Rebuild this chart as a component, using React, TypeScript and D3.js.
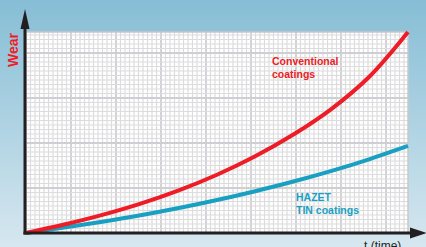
import * as d3 from 'd3';

// time (arbitrary units) and wear for each coating
const times = [0, 1, 2, 3, 4, 5, 6, 7, 8, 9, 10];
const conventionalWear = [0, 0.42, 0.9, 1.46, 2.12, 2.9, 3.82, 4.9, 6.18, 7.8, 10.0];
const hazetWear = [0, 0.27, 0.56, 0.88, 1.24, 1.64, 2.08, 2.56, 3.09, 3.68, 4.33];

const seriesLabels = ['Conventional', 'coatings'];
const hazetLabels = ['HAZET', 'TIN coatings'];

const W = 426;
const H = 247;
const plot = { left: 26, right: 408, top: 32, bottom: 233 };
const cell = 4.5;

const App = () => {
  const x = d3.scaleLinear().domain([0, 10]).range([plot.left, plot.right]);
  const y = d3.scaleLinear().domain([0, 10]).range([plot.bottom, plot.top]);

  // grid in cell units, counted from the origin
  const gx = d3.scaleLinear().domain([0, 1]).range([plot.left, plot.left + cell]);
  const gy = d3.scaleLinear().domain([0, 1]).range([plot.bottom, plot.bottom - cell]);
  const nCols = Math.floor((plot.right - plot.left) / cell);
  const nRows = Math.floor((plot.bottom - plot.top) / cell);
  const cols = d3.range(1, nCols + 1);
  const rows = d3.range(1, nRows + 1);

  const line = d3.line<number>()
    .x((_, i) => x(times[i]))
    .y(d => y(d))
    .curve(d3.curveCatmullRom.alpha(0.5));

  const red = '#ee1c26';
  const blue = '#199fc2';
  const axisColor = '#231f20';

  return (
    <svg width={W} height={H} style={{ position: 'absolute', left: 0, top: 0 }}
      fontFamily="'Liberation Sans', Arial, sans-serif">
      <defs>
        <linearGradient id="bg" x1="0" y1="0" x2="0" y2="1">
          <stop offset="0%" stopColor="#86bed5" />
          <stop offset="100%" stopColor="#d6e7f0" />
        </linearGradient>
      </defs>
      <rect x={0} y={0} width={W} height={H} fill="url(#bg)" />

      {/* grid paper */}
      <rect x={plot.left} y={plot.top} width={plot.right - plot.left} height={plot.bottom - plot.top} fill="#ffffff" />
      <g>
        {cols.map(c => (
          <line key={'c' + c} x1={gx(c)} x2={gx(c)} y1={plot.top} y2={plot.bottom}
            stroke={c % 10 === 0 ? '#cfcfd1' : '#dcdcde'} strokeWidth={c % 10 === 0 ? 1.8 : 1.2} />
        ))}
        {rows.map(r => (
          <line key={'r' + r} y1={gy(r)} y2={gy(r)} x1={plot.left} x2={plot.right}
            stroke={r % 10 === 0 ? '#cfcfd1' : '#dcdcde'} strokeWidth={r % 10 === 0 ? 1.8 : 1.2} />
        ))}
      </g>
      <rect x={plot.left} y={plot.top} width={plot.right - plot.left} height={plot.bottom - plot.top}
        fill="none" stroke="#c8c8ca" strokeWidth={1.5} />

      {/* curves */}
      <path d={line(hazetWear) ?? ''} fill="none" stroke={blue} strokeWidth={4} />
      <path d={line(conventionalWear) ?? ''} fill="none" stroke={red} strokeWidth={4} />

      {/* axes */}
      <line x1={25} x2={25} y1={plot.bottom + 1.5} y2={26} stroke={axisColor} strokeWidth={3} />
      <path d="M25,9 L20.5,29 L29.5,29 Z" fill={axisColor} />
      <line x1={23.5} x2={414} y1={plot.bottom} y2={plot.bottom} stroke={axisColor} strokeWidth={3} />
      <path d="M427,233 L410,227.5 L410,238.5 Z" fill={axisColor} />

      {/* labels */}
      <text transform="translate(18,50) rotate(-90)" textAnchor="middle" fill={red}
        fontWeight="bold" fontSize={14}>Wear</text>
      <text x={272} y={65} fill={red} fontWeight="bold" fontSize={10.5}>
        {seriesLabels.map((s, i) => (
          <tspan key={s} x={272} dy={i === 0 ? 0 : 12.5}>{s}</tspan>
        ))}
      </text>
      <text x={296} y={201} fill={blue} fontWeight="bold" fontSize={10.5}>
        {hazetLabels.map((s, i) => (
          <tspan key={s} x={296} dy={i === 0 ? 0 : 12.5}>{s}</tspan>
        ))}
      </text>
      <text x={364} y={250} fill="#231f20" fontSize={12}>t (time)</text>
    </svg>
  );
};

export default App;
